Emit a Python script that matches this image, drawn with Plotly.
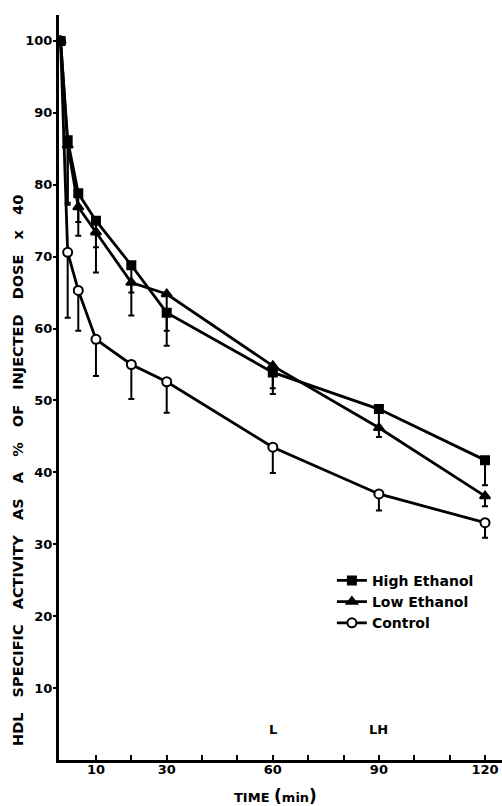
import plotly.graph_objects as go

time_min = [0, 2, 5, 10, 20, 30, 60, 90, 120]

high_ethanol = [100, 86.2, 78.8, 75.0, 68.8, 62.2, 53.9, 48.8, 41.7]
high_err = [0, 9.0, 4.0, 3.7, 3.8, 4.6, 2.2, 2.6, 3.5]

low_ethanol = [100, 85.5, 76.9, 73.4, 66.4, 64.8, 54.8, 46.2, 36.7]
low_err = [0, 8.0, 4.0, 5.6, 4.6, 5.1, 3.9, 1.3, 1.4]

control = [100, 70.6, 65.3, 58.5, 55.0, 52.6, 43.5, 37.0, 33.0]
control_err = [0, 9.1, 5.6, 5.1, 4.8, 4.3, 3.6, 2.3, 2.1]

x_tickvals = [10, 20, 30, 40, 50, 60, 70, 80, 90, 100, 110, 120]
x_ticktext = ["10", "", "30", "", "", "60", "", "", "90", "", "", "120"]
y_tickvals = [10, 20, 30, 40, 50, 60, 70, 80, 90, 100]

y_title_words = ["HDL", "SPECIFIC", "ACTIVITY", "AS", "A", "%", "OF",
                 "INJECTED", "DOSE", "x", "40"]

FONT = "DejaVu Sans"

fig = go.Figure()

def add_series(name, y, err, symbol, fill, size):
    fig.add_trace(go.Scatter(
        x=time_min, y=y, name=name, mode="lines+markers",
        line=dict(color="black", width=2.8),
        marker=dict(symbol=symbol, size=size, color=fill,
                    line=dict(color="black", width=2)),
        error_y=dict(type="data", symmetric=False, array=[0] * len(err),
                     arrayminus=err, color="black", thickness=2, width=3),
    ))

# drawn bottom-to-top; legend reversed so it reads High, Low, Control
add_series("Control", control, control_err, "circle", "white", 9)
add_series("Low Ethanol", low_ethanol, low_err, "triangle-up", "black", 9)
add_series("High Ethanol", high_ethanol, high_err, "square", "black", 8)

fig.update_layout(
    width=502, height=806,
    margin=dict(l=59, r=0, t=15, b=46),
    paper_bgcolor="white", plot_bgcolor="white",
    showlegend=True,
    legend=dict(x=0.616, y=0.262, xanchor="left", yanchor="top",
                traceorder="reversed",
                bgcolor="rgba(0,0,0,0)", itemwidth=30, tracegroupgap=0,
                font=dict(family=FONT, size=14, color="black", weight="bold")),
    xaxis=dict(range=[-0.45, 124.8], showgrid=False, zeroline=False,
               showline=True, linewidth=3, linecolor="black",
               ticks="inside", ticklen=5, tickwidth=2, tickcolor="black",
               tickvals=x_tickvals, ticktext=x_ticktext, ticklabelstandoff=-5,
               tickfont=dict(family=FONT, size=13, color="black", weight="bold")),
    yaxis=dict(range=[0, 103.6], showgrid=False, zeroline=False,
               showline=True, linewidth=3, linecolor="black",
               ticks="outside", ticklen=3, tickwidth=2, tickcolor="black",
               tickvals=y_tickvals, ticklabelstandoff=-2,
               tickfont=dict(family=FONT, size=13, color="black", weight="bold")),
)

fig.add_annotation(
    text=(" \u00a0\u00a0").join(y_title_words),
    xref="paper", yref="paper", x=0, y=0.388, xshift=-41,
    textangle=-90, showarrow=False, xanchor="center", yanchor="middle",
    font=dict(family=FONT, size=14.5, color="black", weight="bold"),
)
fig.add_annotation(
    text="TIME <span style='font-size:17px'>(</span>min<span style='font-size:17px'>)</span>",
    xref="paper", yref="paper", x=0.488, y=-0.048,
    showarrow=False, xanchor="center", yanchor="middle",
    font=dict(family=FONT, size=13, color="black", weight="bold"),
)
for tx, label in [(60, "L"), (90, "LH")]:
    fig.add_annotation(text=label, x=tx, y=4.3, showarrow=False,
                       xanchor="center", yanchor="middle",
                       font=dict(family=FONT, size=13, color="black", weight="bold"))

fig.write_html(
    "out.html",
    config={"displayModeBar": False},
    post_script="document.body.style.margin='0';document.body.style.overflow='hidden';",
)
